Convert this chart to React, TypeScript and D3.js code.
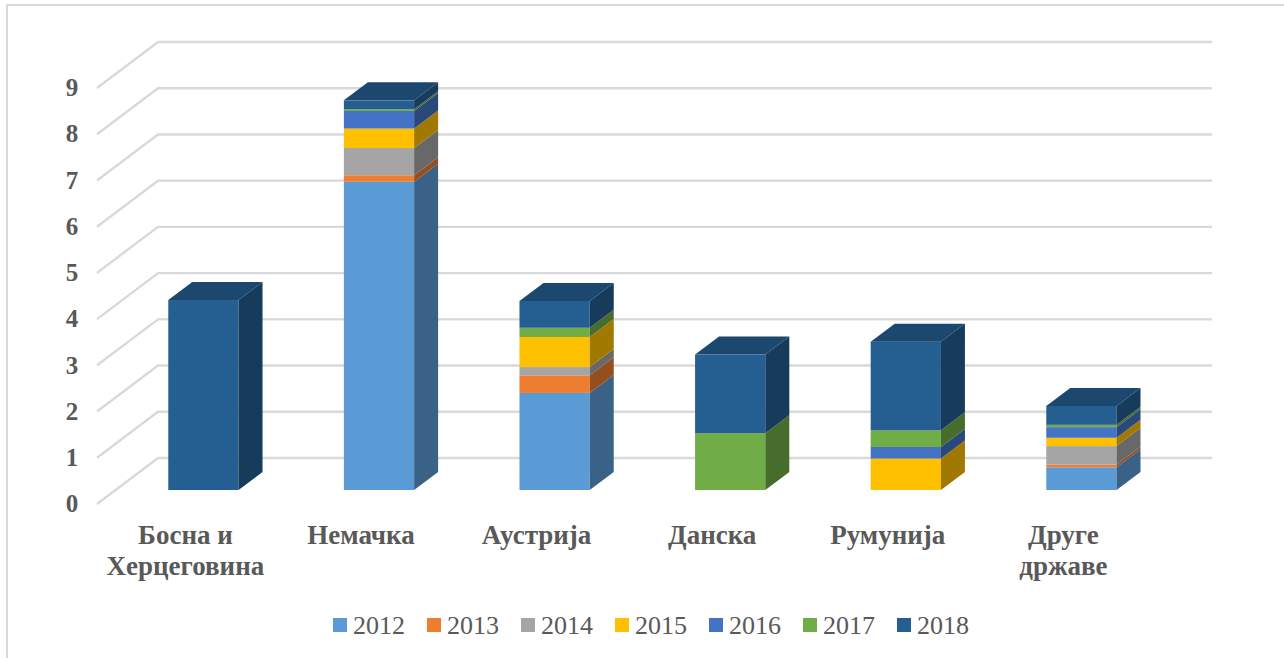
import React from 'react';
import * as d3 from 'd3';

const width = 1284;
const height = 658;

const categories = ['Босна и Херцеговина', 'Немачка', 'Аустрија', 'Данска', 'Румунија', 'Друге државе'];
const categoryLines = [['Босна и', 'Херцеговина'], ['Немачка'], ['Аустрија'], ['Данска'], ['Румунија'], ['Друге', 'државе']];
const yTicks = [0, 1, 2, 3, 4, 5, 6, 7, 8, 9];
const years = ['2012', '2013', '2014', '2015', '2016', '2017', '2018'];
const colors = ['#5B9BD5', '#ED7D31', '#A5A5A5', '#FFC000', '#4472C4', '#70AD47', '#255E91'];

const v2012 = [0, 6.67, 2.1, 0, 0, 0.49];
const v2013 = [0, 0.14, 0.38, 0, 0, 0.06];
const v2014 = [0, 0.59, 0.18, 0, 0, 0.4];
const v2015 = [0, 0.42, 0.65, 0, 0.68, 0.18];
const v2016 = [0, 0.38, 0, 0, 0.25, 0.23];
const v2017 = [0, 0.04, 0.2, 1.23, 0.36, 0.05];
const v2018 = [4.11, 0.19, 0.58, 1.7, 1.92, 0.41];
const seriesValues = [v2012, v2013, v2014, v2015, v2016, v2017, v2018];

const textColor = '#595959';
const gridColor = '#D9D9D9';
const serif = '"Liberation Serif", "Times New Roman", serif';

// 3D look: the front plane sits below and left of the back wall
const depthX = 24;
const depthY = -18;
const wallX = 158;
const wallEnd = 1212;
const floorX = 97;

const x = d3.scaleBand<string>().domain(categories).range([115.6, 1169.2]).paddingInner(0.6).paddingOuter(0.3);
const yBack = d3.scaleLinear().domain([0, 9]).range([458, 42]);
const yFront = d3.scaleLinear().domain([0, 9]).range([490, 74]);

const shade = (c: string, k: number) => {
  const r = d3.rgb(c);
  return d3.rgb(r.r * k, r.g * k, r.b * k).formatHex();
};

const poly = d3.line();

const stacked = d3
  .stack<number>()
  .keys(years.map((_, i) => i) as any)
  .value((i: any, key: any) => seriesValues[key][i])(categories.map((_, i) => i));

const App = () => {
  return (
    <svg width={width} height={height} style={{ position: 'absolute', left: 0, top: 0, display: 'block' }}>
      <rect width={width} height={height} fill="#fff" />
      <path d={`M7,${height}V5H${width}`} fill="none" stroke={gridColor} strokeWidth={2} />

      <g fill="none" stroke={gridColor} strokeWidth={2.4}>
        {yTicks.map(t => (
          <path
            key={t}
            d={poly([
              [floorX, yBack(t) + 46],
              [wallX, yBack(t)],
              [wallEnd, yBack(t)],
            ])!}
          />
        ))}
      </g>

      <g fontFamily={serif} fontWeight="bold" fontSize={25} fill={textColor} textAnchor="middle">
        {yTicks.map(t => (
          <text key={t} x={72} y={yBack(t) + 46} dy="0.33em">
            {t}
          </text>
        ))}
      </g>

      {categories.map((cat, ci) => {
        const x0 = x(cat)!;
        const x1 = x0 + x.bandwidth();
        const segs = stacked.map((s, si) => ({ si, lo: s[ci][0], hi: s[ci][1] })).filter(d => d.hi > d.lo);
        const top = segs[segs.length - 1];
        const yTop = yFront(top.hi);
        return (
          <g key={cat}>
            {segs.map(d => (
              <g key={d.si}>
                <rect
                  x={x0}
                  y={yFront(d.hi)}
                  width={x.bandwidth()}
                  height={yFront(d.lo) - yFront(d.hi)}
                  fill={colors[d.si]}
                />
                <path
                  d={
                    poly([
                      [x1, yFront(d.lo)],
                      [x1 + depthX, yFront(d.lo) + depthY],
                      [x1 + depthX, yFront(d.hi) + depthY],
                      [x1, yFront(d.hi)],
                    ])! + 'Z'
                  }
                  fill={shade(colors[d.si], 0.63)}
                />
              </g>
            ))}
            <path
              d={
                poly([
                  [x0, yTop],
                  [x0 + depthX, yTop + depthY],
                  [x1 + depthX, yTop + depthY],
                  [x1, yTop],
                ])! + 'Z'
              }
              fill={shade(colors[top.si], 0.76)}
            />
          </g>
        );
      })}

      <g fontFamily={serif} fontWeight="bold" fontSize={27} fill={textColor} textAnchor="middle">
        {categories.map((cat, ci) => (
          <text key={cat} x={x(cat)! + x.bandwidth() / 2 - 18} y={544}>
            {categoryLines[ci].map((line, li) => (
              <tspan key={line} x={x(cat)! + x.bandwidth() / 2 - 18} y={544 + li * 31}>
                {line}
              </tspan>
            ))}
          </text>
        ))}
      </g>

      <g fontFamily={serif} fontSize={26} fill={textColor}>
        {years.map((yr, i) => (
          <g key={yr} transform={`translate(${333 + i * 94},0)`}>
            <rect y={618} width={14} height={14} fill={colors[i]} />
            <text x={20} y={634}>
              {yr}
            </text>
          </g>
        ))}
      </g>
    </svg>
  );
};

export default App;
